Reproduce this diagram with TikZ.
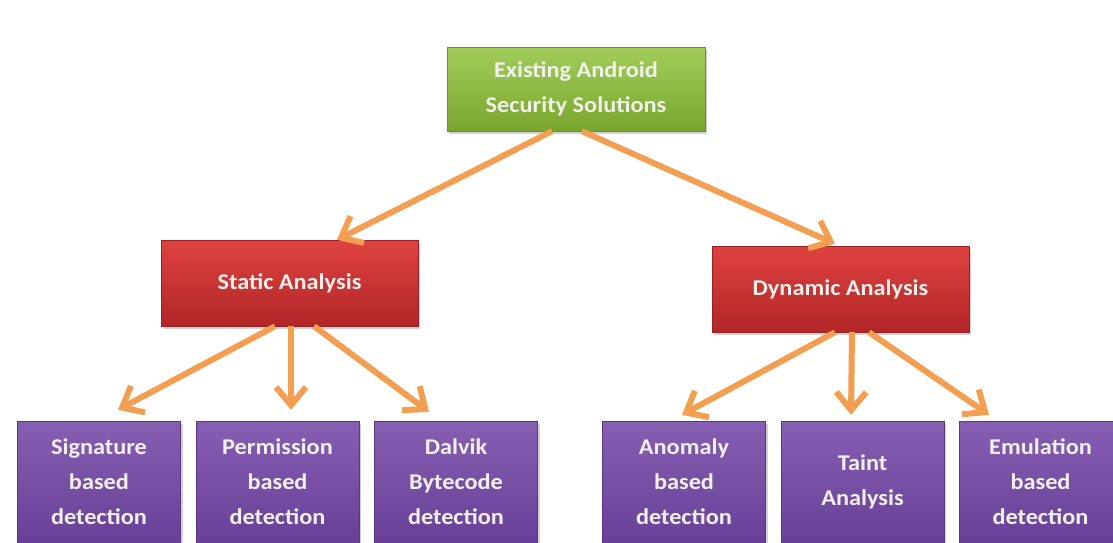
\documentclass[tikz,border=0pt]{standalone}
\usepackage{fontspec}
\newfontfamily\boxfont[FakeStretch=1.08]{Carlito}
\usetikzlibrary{arrows.meta,shadows}
\definecolor{arrorange}{RGB}{244,158,82}
\definecolor{greentop}{RGB}{162,206,88}
\definecolor{greenbot}{RGB}{120,166,46}
\definecolor{redtop}{RGB}{222,66,64}
\definecolor{redbot}{RGB}{178,38,40}
\definecolor{purptop}{RGB}{134,94,178}
\definecolor{purpbot}{RGB}{104,64,152}
\definecolor{boxtext}{RGB}{242,240,236}
\begin{document}
\begin{tikzpicture}[x=1pt,y=-1pt,
  box/.style={rectangle, inner sep=0pt, align=center, text=boxtext,
    font=\boxfont\bfseries\fontsize{22.5}{35}\selectfont,
    drop shadow={shadow xshift=2pt, shadow yshift=-3pt, opacity=.35}},
  rootbox/.style={box, minimum width=258pt, minimum height=84pt,
    top color=greentop, bottom color=greenbot, draw=greenbot!85!black},
  redbox/.style={box, minimum width=257pt, minimum height=86pt,
    top color=redtop, bottom color=redbot, draw=redbot!85!black},
  leafbox/.style={box, minimum width=163pt, minimum height=122pt,
    top color=purptop, bottom color=purpbot, draw=purpbot!85!black},
  arr/.style={draw=arrorange, line width=6pt, -{Straight Barb[length=18pt,width=30pt]}}]

\clip (0,0) rectangle (1113,542);
\fill[white] (0,0) rectangle (1113,542);

% top level
\node[rootbox] (root) at (576,89) {Existing Android\\Security Solutions};

% second level
\node[redbox] (static) at (289.5,283) {Static Analysis};
\node[redbox] (dynamic) at (840.5,289) {Dynamic Analysis};

% leaves
\node[leafbox] (sig) at (99,482) {Signature\\based\\detection};
\node[leafbox] (perm) at (277.5,482) {Permission\\based\\detection};
\node[leafbox] (dalvik) at (456,482) {Dalvik\\Bytecode\\detection};
\node[leafbox] (anomaly) at (684,482) {Anomaly\\based\\detection};
\node[leafbox] (taint) at (862.5,482) {Taint\\Analysis};
\node[leafbox] (emul) at (1040.5,482) {Emulation\\based\\detection};

\draw[arr] ([xshift=-24pt]root.south) -- ([xshift=47.5pt]static.north);
\draw[arr] ([xshift=6pt]root.south) -- ([xshift=-5.5pt,yshift=2pt]dynamic.north);

\draw[arr] ([xshift=-14.5pt]static.south) -- ([xshift=19pt,yshift=11pt]sig.north);
\draw[arr] ([xshift=1.5pt]static.south) -- ([xshift=13.5pt,yshift=11pt]perm.north);
\draw[arr] ([xshift=24.5pt]static.south) -- ([xshift=-27pt,yshift=9pt]dalvik.north);

\draw[arr] ([xshift=-5.5pt]dynamic.south) -- ([xshift=-2pt,yshift=6pt]anomaly.north);
\draw[arr] ([xshift=11.5pt]dynamic.south) -- ([xshift=-11.5pt,yshift=6pt]taint.north);
\draw[arr] ([xshift=28.5pt]dynamic.south) -- ([xshift=-51.5pt,yshift=6pt]emul.north);
\end{tikzpicture}
\end{document}
